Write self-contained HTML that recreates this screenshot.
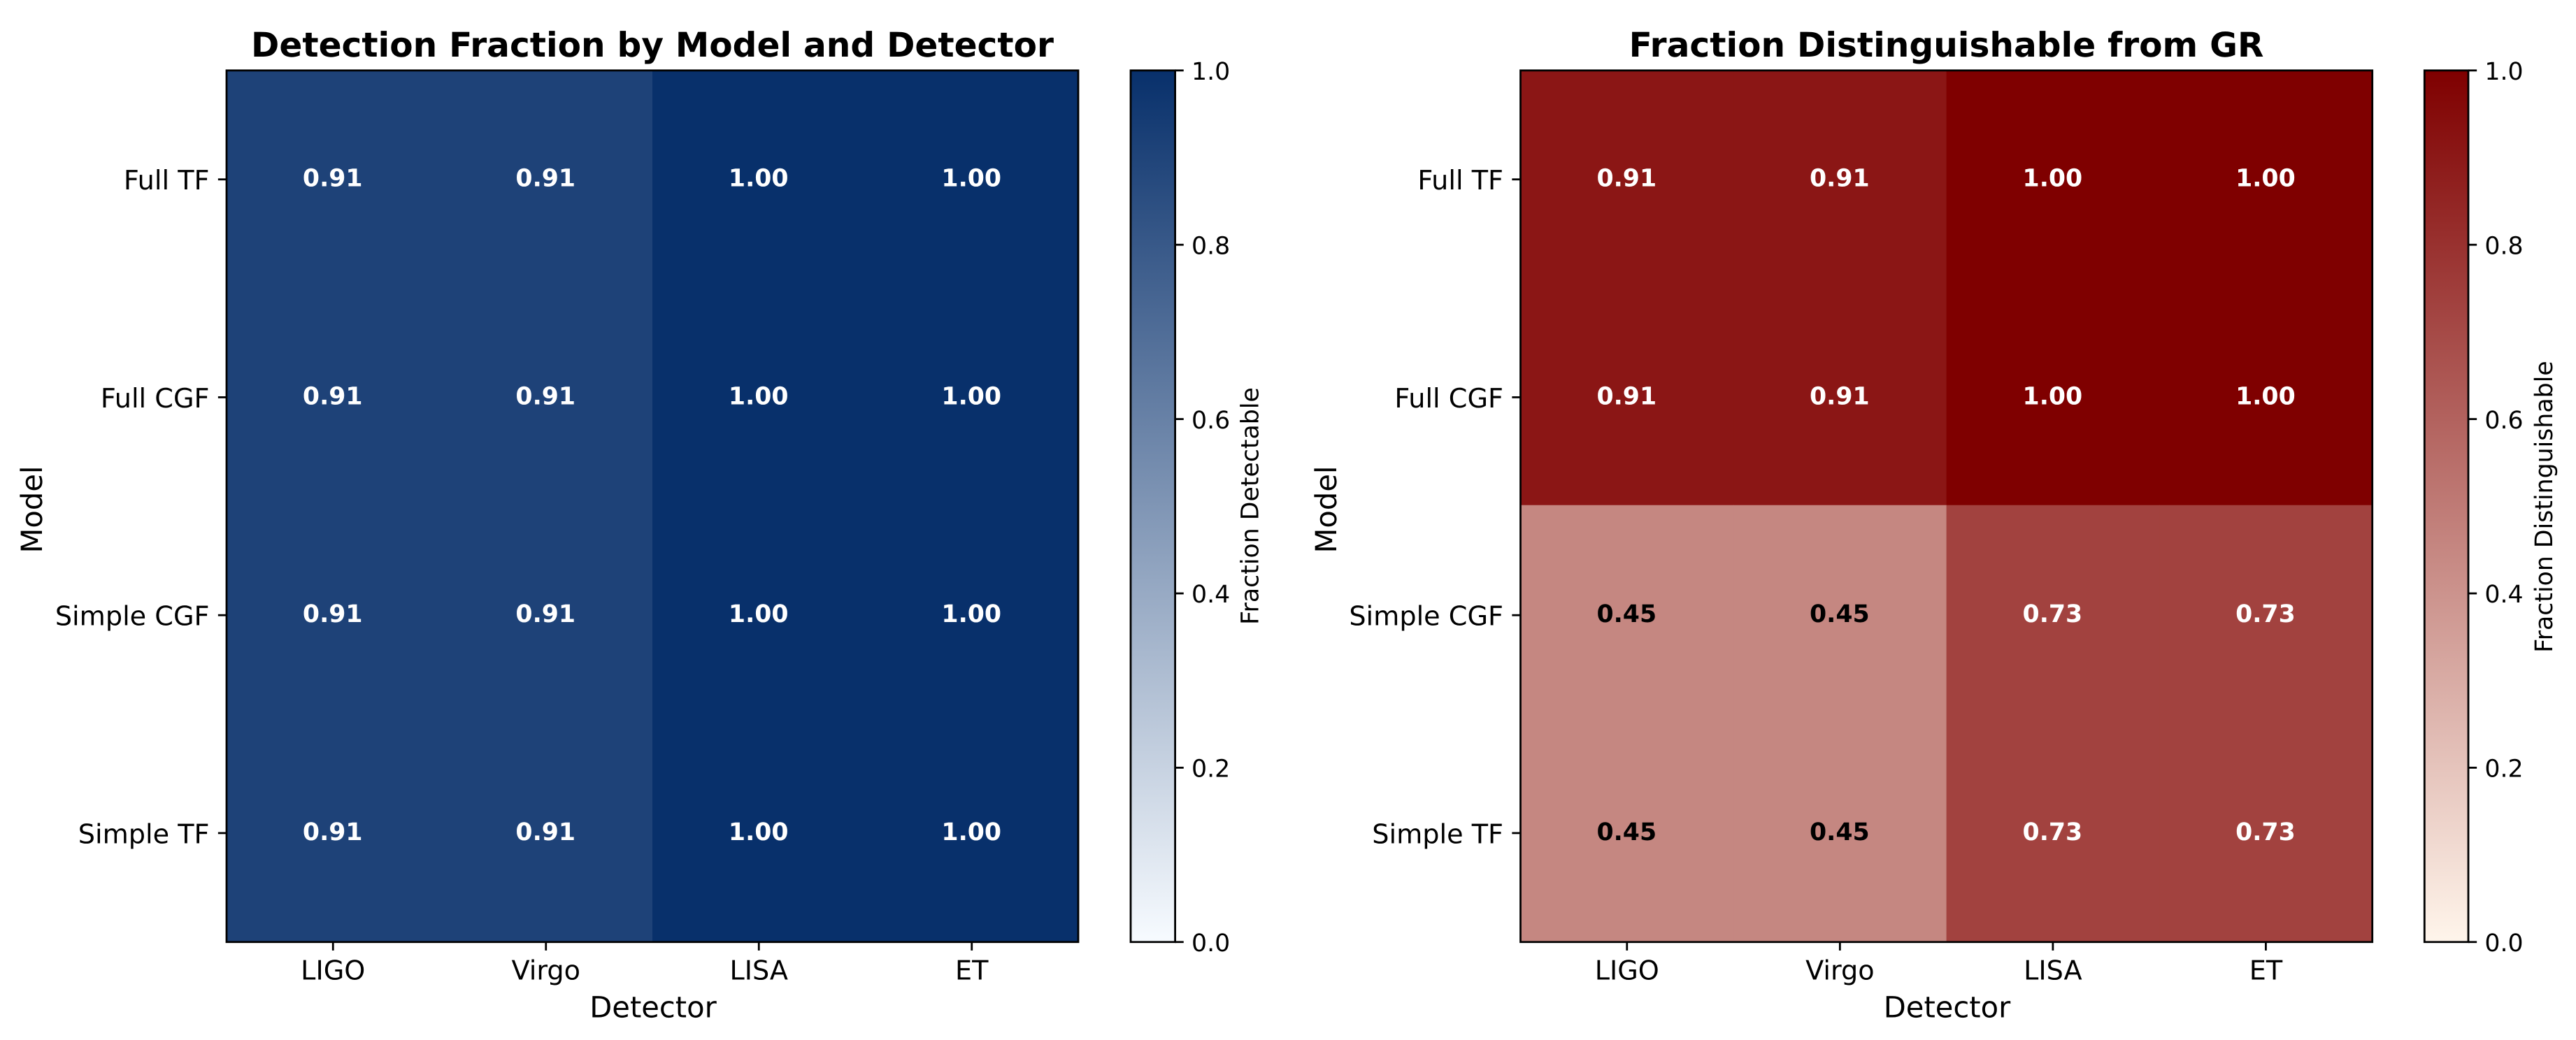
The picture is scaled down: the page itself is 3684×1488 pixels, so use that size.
<!DOCTYPE html>
<html lang="en">
<head>
<meta charset="utf-8">
<title>Detection and GR Distinguishability Heatmaps</title>
<style>
html,body{margin:0;padding:0;background:#fff;}
svg{display:block;}
text{font-family:"DejaVu Sans","Liberation Sans",sans-serif;fill:#000;text-rendering:geometricPrecision;}
</style>
</head>
<body>
<svg id="figure" xmlns="http://www.w3.org/2000/svg" width="3684" height="1488" viewBox="0 0 3684 1488">
  <rect x="0" y="0" width="3684" height="1488" fill="#fff"/>
  <text x="933" y="81" font-size="48.6" font-weight="700" text-anchor="middle">Detection Fraction by Model and Detector</text>
  <text x="2783.5" y="81" font-size="48.6" font-weight="700" text-anchor="middle">Fraction Distinguishable from GR</text>
  <text x="934" y="1455.5" font-size="41.67" text-anchor="middle">Detector</text>
  <text x="2784.5" y="1455.5" font-size="41.67" text-anchor="middle">Detector</text>
  <text transform="translate(60 729) rotate(-90)" font-size="41.67" text-anchor="middle">Model</text>
  <text transform="translate(1911 729) rotate(-90)" font-size="41.67" text-anchor="middle">Model</text>
  <text transform="translate(1799.3 724) rotate(-90)" font-size="34.72" text-anchor="middle">Fraction Detectable</text>
  <text transform="translate(3650 725) rotate(-90)" font-size="34.72" text-anchor="middle">Fraction Distinguishable</text>
  <defs id="gradients"></defs>
</svg>
<script>
const detectors = ['LIGO', 'Virgo', 'LISA', 'ET'];
const models = ['Full TF', 'Full CGF', 'Simple CGF', 'Simple TF'];
const detectionFractions = [
  [0.91, 0.91, 1.00, 1.00],
  [0.91, 0.91, 1.00, 1.00],
  [0.91, 0.91, 1.00, 1.00],
  [0.91, 0.91, 1.00, 1.00]
];
const distinguishableFractions = [
  [0.91, 0.91, 1.00, 1.00],
  [0.91, 0.91, 1.00, 1.00],
  [0.45, 0.45, 0.73, 0.73],
  [0.45, 0.45, 0.73, 0.73]
];
const colorbarTicks = [0, 0.2, 0.4, 0.6, 0.8, 1];

const svg = document.getElementById('figure');
const NS = 'http://www.w3.org/2000/svg';
const LW = 2.8;
const TICK = 12.15;
const TOP = 100.8;
const BOTTOM = 1347.8;

function make(tag, geometry, parent) {
  const el = document.createElementNS(NS, tag);
  for (const key in geometry) el.setAttribute(key, geometry[key]);
  (parent || svg).appendChild(el);
  return el;
}
function mix(low, high, t) {
  const c = low.map((v, i) => Math.round(v + (high[i] - v) * t));
  return 'rgb(' + c.join(',') + ')';
}
function drawPanel(prefix, values, panel) {
  const nRows = models.length;
  const nCols = detectors.length;
  const cellW = (panel.x1 - panel.x0) / nCols;
  const cellH = (BOTTOM - TOP) / nRows;
  const xEdge = c => panel.x0 + c * cellW;
  const yEdge = r => (r === 0 ? TOP : r === nRows ? BOTTOM : TOP + r * cellH - 1.6);
  const xMid = c => panel.x0 + (c + 0.5) * cellW;
  const yMid = r => TOP + (r + 0.5) * cellH;
  const cbY = v => BOTTOM - v * (BOTTOM - TOP);

  values.forEach((row, r) => {
    row.forEach((value, c) => {
      const cell = make('rect', {
        x: xEdge(c), y: yEdge(r),
        width: cellW + (c < nCols - 1 ? 0.5 : 0),
        height: yEdge(r + 1) - yEdge(r) + (r < nRows - 1 ? 0.5 : 0),
        fill: mix(panel.low, panel.high, value)
      });
      
      
    });
  });
  values.forEach((row, r) => {
    row.forEach((value, c) => {
      const label = make('text', {
        x: xMid(c) - 0.5, y: yMid(r) + 10,
        'font-size': 34.72, 'font-weight': 700, 'text-anchor': 'middle'
      });
      label.style.fill = value < 0.5 ? '#000' : '#fff';
      label.textContent = value.toFixed(2);
      
      
    });
  });

  const frame = make('rect', {
    x: panel.x0, y: TOP, width: panel.x1 - panel.x0, height: BOTTOM - TOP,
    fill: 'none', stroke: '#000', 'stroke-width': LW
  });
  
  

  detectors.forEach((name, c) => {
    const tick = make('line', {
      x1: xMid(c), x2: xMid(c), y1: BOTTOM, y2: BOTTOM + TICK,
      stroke: '#000', 'stroke-width': LW
    });
    
    
    const label = make('text', {
      x: xMid(c), y: 1401.7, 'font-size': 38.19, 'text-anchor': 'middle'
    });
    label.textContent = name;
    
    
  });
  models.forEach((name, r) => {
    const tick = make('line', {
      x1: panel.x0 - TICK, x2: panel.x0, y1: yMid(r), y2: yMid(r),
      stroke: '#000', 'stroke-width': LW
    });
    
    
    const label = make('text', {
      x: panel.x0 - 24.5, y: yMid(r) + 14.5, 'font-size': 38.19, 'text-anchor': 'end'
    });
    label.textContent = name;
    
    
  });

  const gradId = prefix + '-gradient';
  const grad = make('linearGradient', { id: gradId, x1: 0, y1: 1, x2: 0, y2: 0 }, document.getElementById('gradients'));
  make('stop', { offset: '0', 'stop-color': mix(panel.low, panel.high, 0) }, grad);
  make('stop', { offset: '1', 'stop-color': mix(panel.low, panel.high, 1) }, grad);
  const bar = make('rect', {
    x: panel.cb0, y: TOP, width: panel.cb1 - panel.cb0, height: BOTTOM - TOP,
    fill: 'url(#' + gradId + ')', stroke: '#000', 'stroke-width': LW
  });
  
  
  colorbarTicks.forEach(v => {
    const tick = make('line', {
      x1: panel.cb1, x2: panel.cb1 + TICK, y1: cbY(v), y2: cbY(v),
      stroke: '#000', 'stroke-width': LW
    });
    
    
    const label = make('text', {
      x: panel.cb1 + 23.4, y: cbY(v) + 13.2, 'font-size': 34.72
    });
    label.textContent = v.toFixed(1);
    
    
  });
}

drawPanel('detection', detectionFractions, {
  x0: 324, x1: 1542, cb0: 1617, cb1: 1680.6,
  low: [247, 251, 255], high: [8, 48, 107]
});
drawPanel('distinguishable', distinguishableFractions, {
  x0: 2174.5, x1: 3392.7, cb0: 3467.3, cb1: 3530,
  low: [255, 245, 235], high: [127, 0, 0]
});
</script>
</body>
</html>
